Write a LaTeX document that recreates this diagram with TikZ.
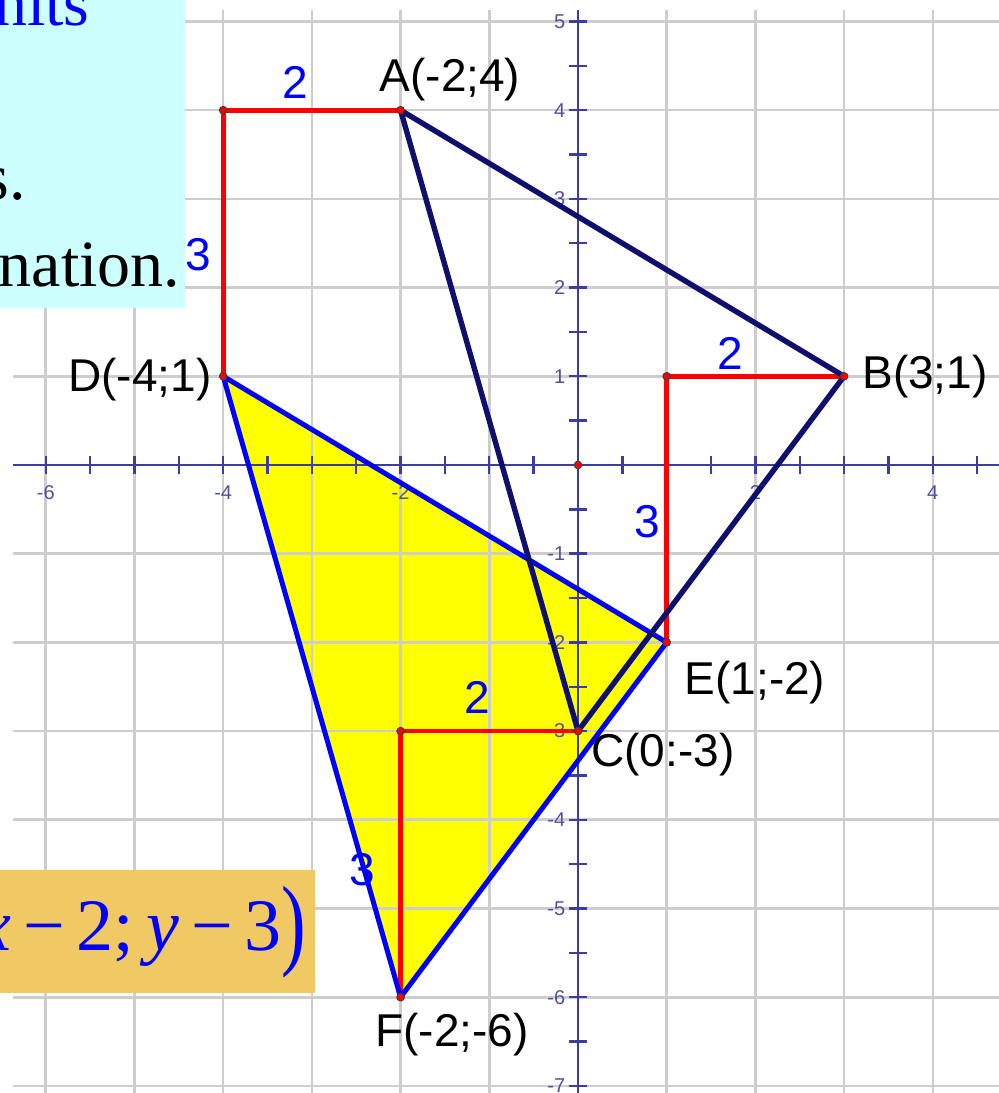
\documentclass[tikz,border=0pt]{standalone}
\usepackage{fontspec}
\setmainfont{Liberation Serif}
\newfontfamily\arialfont{Liberation Sans}
\definecolor{gridgray}{RGB}{205,205,205}
\definecolor{axisblue}{RGB}{60,60,165}
\definecolor{navytri}{RGB}{15,15,110}
\definecolor{cyanbox}{RGB}{204,255,255}
\definecolor{orangebox}{RGB}{240,200,100}
\definecolor{ticklab}{RGB}{80,80,160}
\definecolor{txtblue}{RGB}{0,0,255}
\definecolor{fillyellow}{RGB}{255,255,0}
\tikzset{
  gridline/.style={draw=gridgray, line width=1.3pt},
  axisline/.style={draw=axisblue, line width=1.2pt},
  ticklabel/.style={font=\arialfont\fontsize{10}{11}\selectfont, text=ticklab, inner sep=0pt},
  ptlabel/.style={font=\arialfont\fontsize{23}{25}\selectfont, text=black, inner sep=0pt},
  lenlabel/.style={font=\arialfont\fontsize{23}{25}\selectfont, text=txtblue, inner sep=0pt},
  redseg/.style={draw=red, line width=2.4pt},
  navyseg/.style={draw=navytri, line width=2.7pt, line join=round},
  blueseg/.style={draw=txtblue, line width=2.5pt, line join=round},
  ptdot/.style={circle, fill=red, draw=black!75, line width=0.5pt, inner sep=0pt, minimum size=3.8pt},
  boxtext/.style={font=\fontsize{33}{36}\selectfont, inner sep=0pt, anchor=base east}
}
\begin{document}
\begin{tikzpicture}[x=44.35pt,y=44.35pt]
\useasboundingbox (-6.516,-7.080) rectangle (4.735,5.242);
% points
\coordinate (A) at (-2,4);
\coordinate (B) at (3,1);
\coordinate (C) at (0,-3);
\coordinate (D) at (-4,1);
\coordinate (E) at (1,-2);
\coordinate (F) at (-2,-6);
\coordinate (P1) at (-4,4);
\coordinate (P2) at (1,1);
\coordinate (P3) at (-2,-3);
\coordinate (O) at (0,0);
% yellow triangle
\fill[fillyellow] (D) -- (E) -- (F) -- cycle;
% grid
\foreach \x in {-6,...,4} \draw[gridline] (\x,5.13) -- (\x,-7.10);
\foreach \y in {-7,...,5} \draw[gridline] (-6.37,\y) -- (4.76,\y);
% axes
\coordinate (xl) at (-6.37,0);
\coordinate (xr) at (4.76,0);
\coordinate (yt) at (0,5.13);
\coordinate (yb) at (0,-7.10);
\draw[axisline] (xl) -- (xr);
\draw[axisline] (yt) -- (yb);
\foreach \x in {-6,-5.5,...,4.5} \draw[axisline] (\x,-0.1) -- (\x,0.1);
\foreach \y in {-7,-6.5,...,5} \draw[axisline] (-0.1,\y) -- (0.1,\y);
\foreach \x in {-6,-4,-2,2,4} \node[ticklabel] (xt\x) at (\x,-0.31) {\x};
\foreach \y in {-7,...,-1,1,2,...,5} \node[ticklabel, anchor=east] (yt\y) at (-0.14,\y) {\y};
% boxes
\fill[cyanbox] (-6.6,5.3) rectangle (-4.431,1.770);
\fill[orangebox] (-6.6,-4.566) rectangle (-2.965,-5.953);
\node[boxtext, text=txtblue] (t1) at (-5.502,4.950) {nits};
\node[boxtext] (t2) at (-6.220,2.988) {s.};
\node[boxtext] (t3) at (-4.480,2.007) {nation.};
\node[font=\fontsize{37}{40}\selectfont, text=txtblue, inner sep=0pt, anchor=base east] (t4) at (-3.055,-5.468)
  {\itshape x\upshape\hspace{6pt}−\hspace{6pt}2;\hspace{6pt}\itshape y\upshape\hspace{6pt}−\hspace{6pt}3\raisebox{-3.4pt}{\scalebox{1}[1.37]{)}}};
% red construction segments
\draw[redseg, line join=miter] (D) -- (P1) -- (A);
\draw[redseg, line join=miter] (E) -- (P2) -- (B);
\draw[redseg, line join=miter] (F) -- (P3) -- (C);
% triangles
\draw[blueseg] (D) -- (E) -- (F) -- cycle;
\draw[navyseg] (A) -- (B) -- (C) -- cycle;
% dots
\foreach \p in {A,B,C,D,E,F,P1,P2,P3,O} \node[ptdot] (dot\p) at (\p) {};
% labels
\node[ptlabel] (lA) at (-1.443,4.340) {A(-2;4)};
\node[ptlabel] (lB) at (3.912,0.992) {B(3;1)};
\node[ptlabel] (lD) at (-4.938,0.958) {D(-4;1)};
\node[ptlabel] (lE) at (1.995,-2.458) {E(1;-2)};
\node[ptlabel] (lC) at (0.958,-3.269) {C(0:-3)};
\node[ptlabel] (lF) at (-1.420,-6.426) {F(-2;-6)};
\node[lenlabel] (n1) at (-3.190,4.307) {2};
\node[lenlabel] (n2) at (-4.284,2.368) {3};
\node[lenlabel] (n3) at (1.714,1.263) {2};
\node[lenlabel] (n4) at (0.778,-0.643) {3};
\node[lenlabel] (n5) at (-1.139,-2.616) {2};
\node[lenlabel] (n6) at (-2.435,-4.566) {3};
\end{tikzpicture}
\end{document}
